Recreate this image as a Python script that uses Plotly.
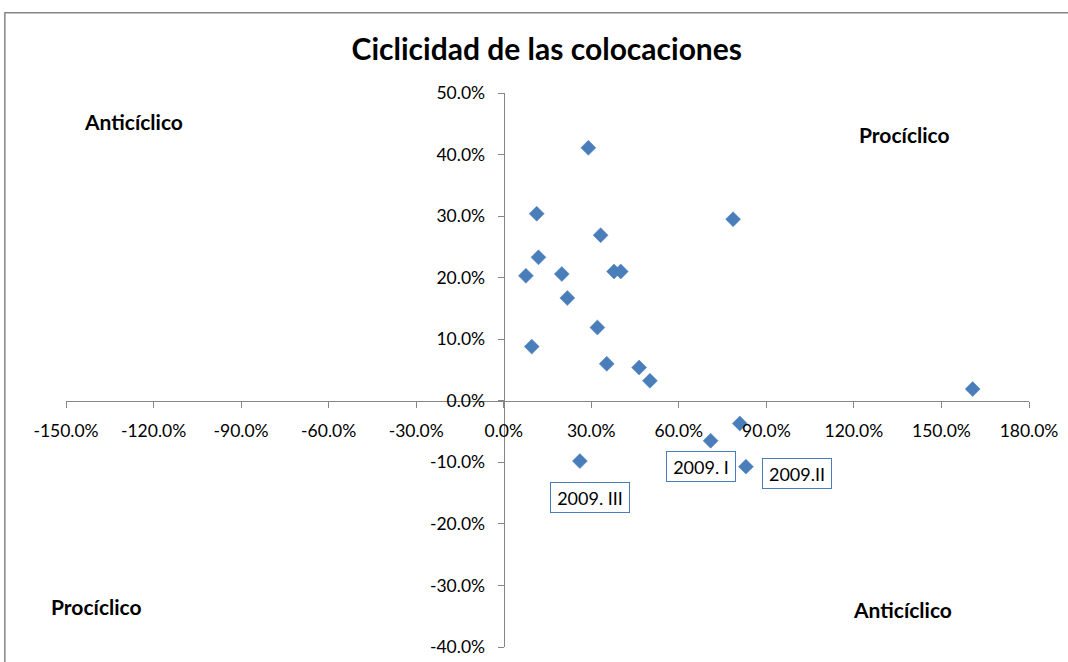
import plotly.graph_objects as go

# Loan growth cyclicality: x = GDP-related growth, y = loan growth (fractions)
x_vals = [0.290, 0.113, 0.332, 0.119, 0.076, 0.199, 0.378, 0.401, 0.218, 0.321,
          0.096, 0.353, 0.464, 0.501, 0.786, 1.607, 0.809, 0.709, 0.830, 0.261]
y_vals = [0.411, 0.304, 0.269, 0.233, 0.203, 0.206, 0.210, 0.210, 0.167, 0.119,
          0.088, 0.060, 0.054, 0.0325, 0.295, 0.019, -0.037, -0.065, -0.107, -0.098]

x_ticks = [-1.5, -1.2, -0.9, -0.6, -0.3, 0.0, 0.3, 0.6, 0.9, 1.2, 1.5, 1.8]
y_ticks = [-0.4, -0.3, -0.2, -0.1, 0.0, 0.1, 0.2, 0.3, 0.4, 0.5]

# Callout labels for the 2009 quarters: (text, x, y)
callouts = [("2009. I", 0.676, -0.106),
            ("2009.II", 1.004, -0.118),
            ("2009. III", 0.296, -0.157)]

# Quadrant captions: (text, x, y)
quadrants = [("Anticíclico", -1.27, 0.453),
             ("Procíclico", 1.372, 0.432),
             ("Procíclico", -1.396, -0.334),
             ("Anticíclico", 1.367, -0.339)]


def pct(v):
    return f"{v * 100:.1f}%"


FONT = "Lato, 'Open Sans', sans-serif"
AXIS_GREY = "#868686"
BLUE = "#4A7EBB"

fig = go.Figure()
fig.add_trace(go.Scatter(
    x=x_vals, y=y_vals, mode="markers",
    marker=dict(symbol="diamond", size=11.5, color=BLUE,
                line=dict(color=BLUE, width=0.5)),
    hoverinfo="x+y", showlegend=False,
))

for text, x, y in callouts:
    fig.add_annotation(
        x=x, y=y, xref="x", yref="y", text=text, showarrow=False,
        font=dict(family=FONT, size=18, color="#000000"),
        bgcolor="white", bordercolor=BLUE, borderwidth=1,
        width=68 if text != "2009. III" else 78, height=29, borderpad=0,
    )

for text, x, y in quadrants:
    fig.add_annotation(
        x=x, y=y, xref="x", yref="y", text=f"<b>{text}</b>", showarrow=False,
        font=dict(family=FONT, size=21, color="#000000"),
    )

# Outer chart frame
fig.add_shape(type="rect", xref="paper", yref="paper",
              x0=-0.0635, x1=1.06, y0=-0.06, y1=1.145,
              line=dict(color=AXIS_GREY, width=1.5), fillcolor="rgba(0,0,0,0)",
              layer="below")

x_lo, x_hi = -1.5, 1.8
y_lo, y_hi = -0.4, 0.5
eps = 1e-6

tick_font = dict(family=FONT, size=17.5, color="#000000")

fig.update_layout(
    width=1068, height=662,
    margin=dict(l=66, r=39, t=93, b=15, autoexpand=False),
    paper_bgcolor="white", plot_bgcolor="white",
    title=dict(text="<b>Ciclicidad de las colocaciones</b>",
               x=0.512, xref="container", xanchor="center",
               y=1 - 49 / 662, yref="container", yanchor="middle",
               font=dict(family=FONT, size=30, color="#000000")),
    xaxis=dict(
        range=[x_lo - eps, x_hi + eps], tickvals=x_ticks,
        ticktext=[pct(v) for v in x_ticks],
        anchor="free", position=(0 - y_lo) / (y_hi - y_lo),
        showline=True, linecolor=AXIS_GREY, linewidth=1.3,
        ticks="outside", ticklen=6, tickcolor=AXIS_GREY, tickwidth=1.3,
        ticklabelstandoff=8,
        showgrid=False, zeroline=False, tickfont=tick_font,
    ),
    yaxis=dict(
        range=[y_lo - eps, y_hi + eps], tickvals=y_ticks,
        ticktext=[pct(v) for v in y_ticks],
        anchor="free", position=(0 - x_lo) / (x_hi - x_lo),
        showline=True, linecolor=AXIS_GREY, linewidth=1.3,
        ticks="outside", ticklen=6, tickcolor=AXIS_GREY, tickwidth=1.3,
        ticklabelstandoff=9,
        showgrid=False, zeroline=False, tickfont=tick_font,
    ),
)

fig.write_html("out.html")
